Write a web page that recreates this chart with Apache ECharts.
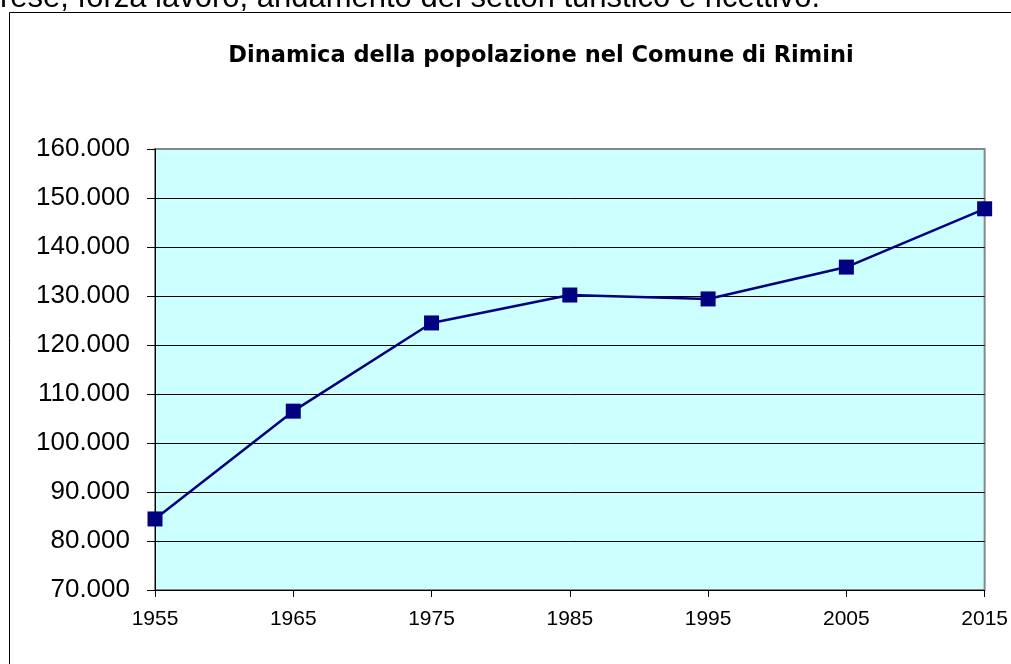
<!DOCTYPE html>
<html>
<head>
<meta charset="utf-8">
<title>Dinamica della popolazione nel Comune di Rimini</title>
<script src="https://cdn.jsdelivr.net/npm/echarts@6/dist/echarts.min.js"></script>
<style>
html, body { margin: 0; padding: 0; background: #fff; }
#main { width: 1011px; height: 664px; }
</style>
</head>
<body>
<div id="main"></div>
<script>
// anni (asse x) e popolazione residente
var anni = ['1955', '1965', '1975', '1985', '1995', '2005', '2015'];
var popolazione = [84500, 106500, 124500, 130200, 129400, 135900, 147800];

var myChart = echarts.init(document.getElementById('main'));

// linee di griglia nere, l'ultima (bordo alto) grigia
var coloriGriglia = ['#000', '#000', '#000', '#000', '#000', '#000', '#000', '#000', '#000', '#888'];

var option = {
    animation: false,
    graphic: [{
        // riga di testo tagliata sopra il riquadro
        type: 'text',
        z: 10,
        style: {
            x: 0,
            y: 14,
            verticalAlign: 'bottom',
            text: 'rese, forza lavoro, andamento dei settori turistico e ricettivo.',
            font: '31px "Liberation Sans"',
            fill: '#000'
        }
    }, {
        // bordo del riquadro del grafico
        type: 'rect',
        shape: { x: 9.5, y: 12.5, width: 1100, height: 800 },
        style: { fill: 'none', stroke: '#000', lineWidth: 1 }
    }],
    title: {
        text: 'Dinamica della popolazione nel Comune di Rimini',
        left: 536,
        textAlign: 'center',
        top: 40,
        textStyle: {
            fontFamily: 'DejaVu Sans',
            fontWeight: 'bold',
            fontSize: 22.5,
            color: '#000'
        }
    },
    grid: {
        left: 155,
        right: 26,
        top: 149,
        bottom: 74,
        show: true,
        backgroundColor: '#ccffff',
        borderColor: '#888',
        borderWidth: 2
    },
    xAxis: {
        type: 'category',
        data: anni,
        boundaryGap: false,
        axisLine: { lineStyle: { color: '#000', width: 1 } },
        axisTick: { show: true, length: 7, alignWithLabel: true, lineStyle: { color: '#000' } },
        axisLabel: {
            margin: 19,
            fontFamily: 'Liberation Sans',
            fontSize: 21,
            color: '#000'
        },
        splitLine: { show: false }
    },
    yAxis: {
        type: 'value',
        min: 70000,
        max: 160000,
        interval: 10000,
        axisLine: { show: true, lineStyle: { color: '#000', width: 1 } },
        axisTick: { show: true, length: 8, lineStyle: { color: '#000' } },
        axisLabel: {
            margin: 25,
            fontFamily: 'Liberation Sans',
            fontSize: 26,
            color: '#000',
            formatter: function (v) {
                return (v / 1000) + '.000';
            }
        },
        splitLine: { show: true, lineStyle: { color: coloriGriglia, width: 1 } }
    },
    series: [{
        name: 'Popolazione',
        type: 'line',
        data: popolazione,
        symbol: 'rect',
        symbolSize: 15,
        itemStyle: { color: '#000080' },
        lineStyle: { color: '#000080', width: 2.5 }
    }]
};

myChart.setOption(option);
</script>
</body>
</html>
